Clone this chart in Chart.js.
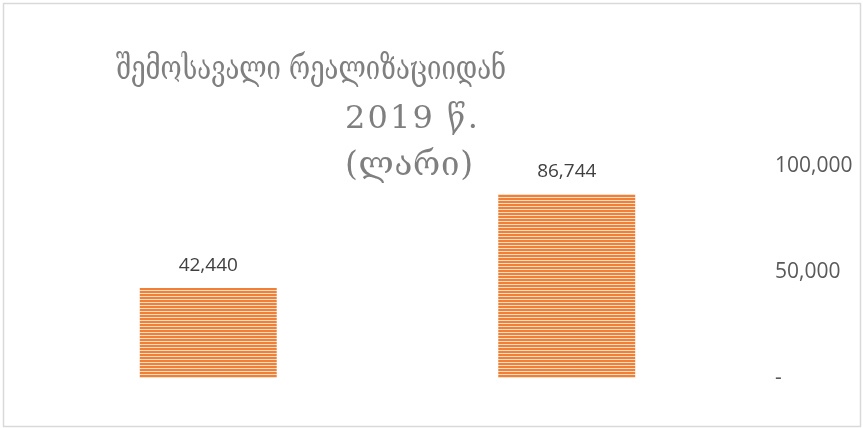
<!DOCTYPE html>
<html>
<head>
<meta charset="utf-8">
<script src="https://cdn.jsdelivr.net/npm/chart.js@4"></script>
<style>
html,body{margin:0;padding:0;background:#fff;}
canvas{display:block;}
</style>
</head>
<body>
<canvas id="c" width="863" height="428"></canvas>
<script>
// ---- data ----
const categories = ['1', '2'];
const revenue = [42440, 86744];
const yTickValues = [0, 50000, 100000];
const titleLines = ['შემოსავალი რეალიზაციიდან', '2019 წ.', '(ლარი)'];

// ---- stripe pattern ----
function makeStripes() {
  const p = document.createElement('canvas');
  p.width = 4; p.height = 3;
  const g = p.getContext('2d');
  g.fillStyle = '#EE8038'; g.fillRect(0, 0, 4, 3);
  g.fillStyle = '#FBDCC6'; g.fillRect(0, 2, 4, 1);
  return document.getElementById('c').getContext('2d').createPattern(p, 'repeat');
}

const fmt = v => v === 0 ? '-' : v.toLocaleString('en-US');

const frame = {
  id: 'frame',
  beforeDraw(chart) {
    const ctx = chart.ctx;
    ctx.save();
    ctx.fillStyle = '#fff';
    ctx.fillRect(0, 0, chart.width, chart.height);
    ctx.strokeStyle = '#D9D9D9';
    ctx.lineWidth = 1.5;
    ctx.strokeRect(3.5, 3.5, 857, 423);
    ctx.restore();
  }
};

const titleSpec = [
  {x0: 116, x1: 506, y: 79, size: 33},
  {x0: 345, x1: 478, y: 128, size: 32},
  {x0: 345, x1: 473, y: 175, size: 33}
];
const titlePlugin = {
  id: 'bigTitle',
  afterDraw(chart) {
    const ctx = chart.ctx;
    ctx.save();
    ctx.fillStyle = '#7F7F7F';
    ctx.textAlign = 'left';
    ctx.textBaseline = 'alphabetic';
    titleLines.forEach((t, i) => {
      const s = titleSpec[i];
      ctx.font = s.size + 'px "DejaVu Serif"';
      ctx.letterSpacing = '0px';
      const w = ctx.measureText(t).width;
      const target = s.x1 - s.x0;
      ctx.save();
      ctx.translate(s.x0, s.y);
      if (w > target) {
        ctx.scale(target / w, 1);
      } else {
        const n = [...t].length;
        ctx.letterSpacing = ((target - w) / Math.max(1, n - 1)) + 'px';
      }
      ctx.fillText(t, 0, 0);
      ctx.restore();
    });
    ctx.restore();
  }
};

const labelPlugin = {
  id: 'valLabels',
  afterDatasetsDraw(chart) {
    const ctx = chart.ctx;
    const meta = chart.getDatasetMeta(0);
    ctx.save();
    ctx.fillStyle = '#404040';
    ctx.font = '19px "Open Sans"';
    ctx.textAlign = 'center';
    ctx.textBaseline = 'alphabetic';
    meta.data.forEach((bar, i) => {
      ctx.fillText(revenue[i].toLocaleString('en-US'), bar.x, bar.y - 17);
    });
    ctx.restore();
  }
};

new Chart(document.getElementById('c'), {
  type: 'bar',
  data: {
    labels: categories,
    datasets: [{
      data: revenue,
      backgroundColor: makeStripes(),
      borderWidth: 0,
      barPercentage: 0.382,
      categoryPercentage: 1
    }]
  },
  plugins: [frame, titlePlugin, labelPlugin],
  options: {
    responsive: false,
    animation: false,
    layout: {padding: {top: 166, bottom: 50, left: 29, right: 0}},
    plugins: {legend: {display: false}, tooltip: {enabled: false}, title: {display: false}},
    scales: {
      x: {display: false},
      y: {
        position: 'right',
        min: 0, max: 100000,
        afterBuildTicks: s => { s.ticks = yTickValues.map(v => ({value: v})); },
        afterFit: s => { s.width = 117; },
        grid: {display: false, drawTicks: false},
        border: {display: false},
        ticks: {
          padding: 29,
          color: '#595959',
          font: {family: '"Open Sans"', size: 21},
          callback: v => fmt(v)
        }
      }
    }
  }
});
</script>
</body>
</html>
